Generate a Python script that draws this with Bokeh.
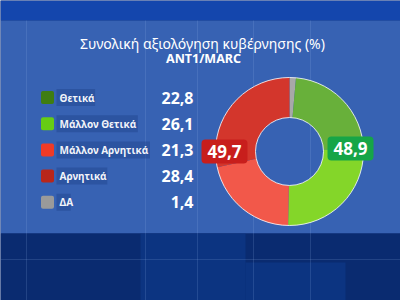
import math
from bokeh.plotting import figure
from bokeh.models import Range1d, ColumnDataSource
from bokeh.core.properties import value
from bokeh.embed import file_html
from bokeh.resources import INLINE

# ---- data ----
categories = ["Θετικά", "Μάλλον Θετικά", "Μάλλον Αρνητικά", "Αρνητικά", "ΔΑ"]
values = [22.8, 26.1, 21.3, 28.4, 1.4]
legend_colors = ["#3f7d12", "#66cc14", "#f03a26", "#b8261a", "#9a9a9a"]
# donut order (clockwise from 12 o'clock)
donut_order = ["ΔΑ", "Θετικά", "Μάλλον Θετικά", "Μάλλον Αρνητικά", "Αρνητικά"]
donut_colors = {"ΔΑ": "#a8a8a8", "Θετικά": "#68b03a", "Μάλλον Θετικά": "#84d629",
                "Μάλλον Αρνητικά": "#f2584a", "Αρνητικά": "#d3362c"}
title = "Συνολική αξιολόγηση κυβέρνησης (%)"
subtitle = "ANT1/MARC"

W, H = 400, 300
FONT = "Noto Sans"

p = figure(width=W, height=H, x_range=Range1d(0, W), y_range=Range1d(0, H),
           output_backend="svg", toolbar_location=None, min_border=0,
           background_fill_color="#0a2c72", border_fill_color="#0a2c72")
p.axis.visible = False
p.grid.visible = False
p.outline_line_color = None

def Y(py):
    return H - py

# background bands
p.quad(left=0, right=W, top=Y(0), bottom=Y(20), fill_color="#1446ad", line_color=None)
p.quad(left=0, right=W, top=Y(20), bottom=Y(233), fill_color="#3762b3", line_color=None)
p.quad(left=0, right=W, top=Y(233), bottom=Y(300), fill_color="#0a2b70", line_color=None)
# subtle darker tiles in lower band
p.quad(left=[140, 245], right=[245, 345], top=[Y(233), Y(262)], bottom=[Y(300), Y(300)],
       fill_color="#0d3a8c", fill_alpha=0.6, line_color=None)
# faint grid lines
for gx in [26, 145, 197, 253, 310]:
    p.segment(x0=gx, y0=Y(20), x1=gx, y1=Y(300), line_color="#8fb0e8", line_alpha=0.18, line_width=1)
for gy in [259]:
    p.segment(x0=0, y0=Y(gy), x1=W, y1=Y(gy), line_color="#8fb0e8", line_alpha=0.18, line_width=1)

# titles
p.text(x=[202], y=[Y(43)], text=[title], text_color="white", text_font=value(FONT),
       text_font_size="14px", text_align="center", text_baseline="middle")
p.text(x=[203], y=[Y(58)], text=[subtitle], text_color="white", text_font=value(FONT),
       text_font_size="12.5px", text_font_style="bold", text_align="center", text_baseline="middle")

# legend table
row_y = [Y(97 + 26.2 * i) for i in range(len(categories))]
lab_w = [len(c) * 6.1 + 2 for c in categories]
lsrc = ColumnDataSource(dict(
    y=row_y, cat=categories, col=legend_colors,
    val=[f"{v:.1f}".replace(".", ",") for v in values],
    bx=[56 + w / 2 for w in lab_w], bw=lab_w))
p.rect(x="bx", y="y", width="bw", height=17, source=lsrc, fill_color="#21468f",
       fill_alpha=0.5, line_color=None)
p.rect(x=47, y="y", width=13, height=13, source=lsrc, fill_color="col", line_color=None,
       border_radius=2)
p.text(x=59, y="y", text="cat", source=lsrc, text_color="white", text_font=value(FONT),
       text_font_size="10px", text_font_style="bold", text_baseline="middle", text_alpha=0.95)
p.text(x=193, y="y", text="val", source=lsrc, text_color="white", text_font=value(FONT),
       text_font_size="16px", text_font_style="bold", text_align="right", text_baseline="middle")

# donut
cx, cy = 289, Y(151)
total = sum(values)
vmap = dict(zip(categories, values))
starts, ends, cols = [], [], []
acc = 0.0
for c in donut_order:
    a0 = math.pi / 2 - 2 * math.pi * acc / total
    acc += vmap[c]
    a1 = math.pi / 2 - 2 * math.pi * acc / total
    starts.append(a0); ends.append(a1); cols.append(donut_colors[c])
dsrc = ColumnDataSource(dict(s=starts, e=ends, c=cols))
p.annular_wedge(x=cx, y=cy, inner_radius=34, outer_radius=74,
                inner_radius_units="screen", outer_radius_units="screen",
                start_angle="s", end_angle="e", direction="clock",
                fill_color="c", line_color=None, source=dsrc)
p.circle(x=[cx, cx], y=[cy, cy], radius=[74, 34], radius_units="screen",
         fill_alpha=0, line_color="white", line_alpha=0.8, line_width=1)

# value labels (sums of negative / positive)
neg = vmap["Μάλλον Αρνητικά"] + vmap["Αρνητικά"]
pos = vmap["Θετικά"] + vmap["Μάλλον Θετικά"]
p.rect(x=[224, 350], y=[Y(151), Y(148)], width=[46, 46], height=[24, 24],
       fill_color=["#c81e1c", "#16a547"], line_color=None, border_radius=4)
p.text(x=[224, 350], y=[Y(151), Y(148)],
       text=[f"{neg:.1f}".replace(".", ","), f"{pos:.1f}".replace(".", ",")],
       text_color="white", text_font=value(FONT), text_font_size="17px",
       text_font_style="bold", text_align="center", text_baseline="middle")

open("out.html", "w").write(file_html(p, INLINE))
